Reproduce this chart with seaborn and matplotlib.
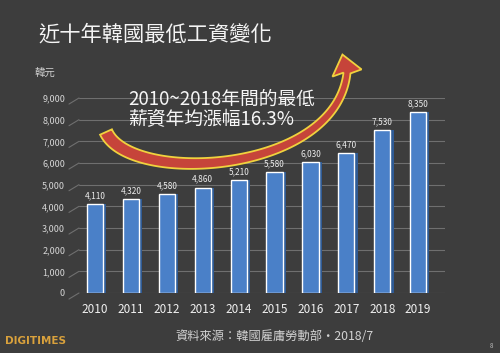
import numpy as np
import matplotlib
matplotlib.use("Agg")
import matplotlib.pyplot as plt
import seaborn as sns
from matplotlib.patches import Polygon, Rectangle

years = ["2010", "2011", "2012", "2013", "2014", "2015", "2016", "2017", "2018", "2019"]
wages = [4110, 4320, 4580, 4860, 5210, 5580, 6030, 6470, 7530, 8350]
y_ticks = [0, 1000, 2000, 3000, 4000, 5000, 6000, 7000, 8000, 9000]
title = "近十年韓國最低工資變化"
unit = "韓元"
note_lines = ["2010~2018年間的最低", "薪資年均漲幅16.3%"]
source = "資料來源：韓國雇庸勞動部・2018/7"

BG = "#3d3d3d"
BAR = "#4a80c8"
BAR_SIDE = "#2f5b95"

sns.set_theme(style="dark")
plt.rcParams["font.family"] = ["Noto Sans CJK TC", "DejaVu Sans"]

W, H = 500, 353
fig = plt.figure(figsize=(W / 100, H / 100), dpi=100, facecolor=BG)
ax_left, ax_right, ax_bottom, ax_top = 79, 445, 293, 98
ax = fig.add_axes([ax_left / W, 1 - ax_bottom / H, (ax_right - ax_left) / W, (ax_bottom - ax_top) / H])
ax.set_facecolor(BG)

sns.barplot(x=years, y=wages, color=BAR, saturation=1, width=0.45, ax=ax, zorder=3)
for p in list(ax.patches):
    ax.add_patch(Rectangle((p.get_x() + p.get_width(), 0), 0.09, p.get_height(),
                           facecolor=BAR_SIDE, edgecolor="none", zorder=2.9))

ax.set_xlim(-0.45, 9.75)
ax.set_ylim(0, 9000)
ax.set_yticks(y_ticks)
ax.set_yticklabels([f"{v:,}" for v in y_ticks])
ax.yaxis.grid(True, color="#6f6f6f", lw=0.8)
ax.xaxis.grid(False)
ax.set_axisbelow(True)
for s in ax.spines.values():
    s.set_visible(False)
ax.tick_params(axis="y", length=0, pad=10, labelsize=6.5, labelcolor="#d6d6d6")
ax.tick_params(axis="x", length=0, pad=7, labelsize=8.5, labelcolor="#f0f0f0")
ax.set_xlabel("")
ax.set_ylabel("")

# perspective stubs of the gridlines
for v in y_ticks:
    ax.plot([-0.73, -0.45], [v - 280, v], color="#6f6f6f", lw=0.8, clip_on=False, zorder=1)

for i, v in enumerate(wages):
    ax.text(i, v + 180, f"{v:,}", ha="center", va="bottom", fontsize=6, color="#ececec", zorder=4)

# texts
fig.text(38 / W, 1 - 35 / H, title, fontsize=15.3, color="#f4f4f4", va="center", ha="left")
fig.text(35 / W, 1 - 73 / H, unit, fontsize=7.5, color="#cfcfcf", va="center", ha="left")
fig.text(175 / W, 1 - 336 / H, source, fontsize=8.8, color="#d2d2d2", va="center", ha="left")
fig.text(5 / W, 1 - 341 / H, "DIGITIMES", fontsize=7.5, fontweight="bold", color="#d9a13c",
         va="center", ha="left", family="DejaVu Sans")
fig.text(490 / W, 1 - 346 / H, "8", fontsize=4.5, color="#bdbdbd", va="center", ha="left")

# curved arrow (decoration)
P0 = np.array([106.0, 132.0]); C1 = np.array([130.0, 185.0])
C2 = np.array([335.0, 175.0]); P3 = np.array([347.0, 73.0])
t = np.linspace(0, 1, 120)[:, None]
B = (1 - t) ** 3 * P0 + 3 * (1 - t) ** 2 * t * C1 + 3 * (1 - t) * t ** 2 * C2 + t ** 3 * P3
dB = 3 * (1 - t) ** 2 * (C1 - P0) + 6 * (1 - t) * t * (C2 - C1) + 3 * t ** 2 * (P3 - C2)
dB = dB / np.linalg.norm(dB, axis=1)[:, None]
nrm = np.column_stack([-dB[:, 1], dB[:, 0]])
w = (13 - 6 * t) / 2
left = B + nrm * w
right = B - nrm * w
hd = np.array([-0.24, -0.97]); hd = hd / np.linalg.norm(hd)
hn = np.array([-hd[1], hd[0]])
base = P3
tip = base + hd * 19
wing_l = base + hn * 15 * np.sign(np.dot(hn, nrm[-1]))
wing_r = base - hn * 15 * np.sign(np.dot(hn, nrm[-1]))
pts = np.vstack([left, wing_l, tip, wing_r, right[::-1]])
pts_fig = np.column_stack([pts[:, 0] / W, 1 - pts[:, 1] / H])
arrow = Polygon(pts_fig, closed=True, transform=fig.transFigure, facecolor="#c6443a",
                edgecolor="#f0d23e", lw=1.3, joinstyle="miter", zorder=5)
fig.add_artist(arrow)

for k, line in enumerate(note_lines):
    fig.text(128 / W, 1 - (99 + 21 * k) / H, line, fontsize=13.5, color="#f6f6f6",
             va="center", ha="left", zorder=6)

fig.savefig("out.png", dpi=100, facecolor=BG)
